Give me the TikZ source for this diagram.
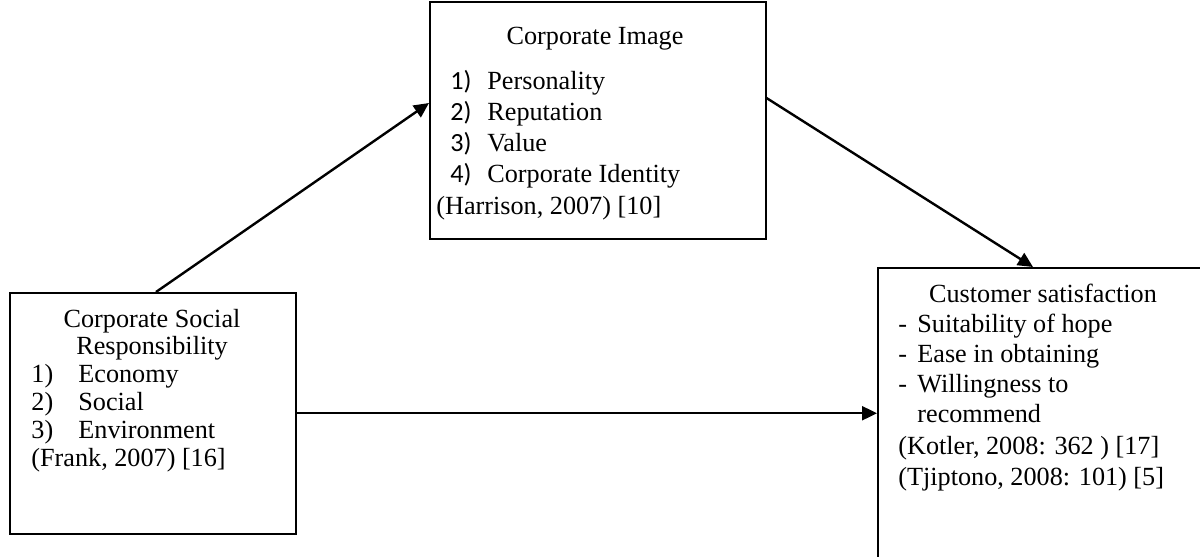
\documentclass[tikz,border=0pt]{standalone}
\usepackage{fontspec}
\setmainfont{Liberation Serif}
\newfontfamily\calibrifont{Carlito}
\usetikzlibrary{calc,arrows.meta}

\tikzset{
  varbox/.style = {draw, line width=0.75pt, inner sep=0pt, anchor=north west},
  link/.style = {-{Triangle[length=7.5pt,width=7pt]}, line width=1.2pt},
  txt/.style = {inner sep=0pt, anchor=base west, font=\fontsize{13.1}{15}\selectfont},
  ttl/.style = {inner sep=0pt, anchor=base, font=\fontsize{13.1}{15}\selectfont},
}

\begin{document}
\begin{tikzpicture}[x=0.5pt, y=-0.5pt]
% page frame (pixel units, y down)
\useasboundingbox (0,0) rectangle (1200,557);
%
% boxes: left up corner and size
\node[varbox, minimum width=168pt, minimum height=118.5pt] (image) at (429,1) {};
\node[varbox, minimum width=143pt, minimum height=120.5pt] (csr) at (9,292) {};
\node[varbox, minimum width=170pt, minimum height=160pt] (sat) at (877,267) {};
%
% corporate image
\node[ttl] (imagettl) at (595,44) {Corporate Image};
\foreach \item [count=\i] in {Personality, Reputation, Value, Corporate Identity} {
   \node[txt] (imagenum\i) at (450,{58+31*\i}) {\calibrifont\i)};
   \node[txt] (imageitem\i) at (487,{58+31*\i}) {\item};
}
\node[txt] (imageref) at (436,214) {(Harrison, 2007) [10]};
%
% corporate social responsibility
\node[ttl] (csrttl) at (152,327) {Corporate Social};
\node[ttl] (csrttlb) at (152,354) {Responsibility};
\foreach \item [count=\i] in {Economy, Social, Environment} {
   \node[txt] (csrnum\i) at (31,{354+28*\i}) {\i)};
   \node[txt] (csritem\i) at (78,{354+28*\i}) {\item};
}
\node[txt] (csrref) at (31,466) {(Frank, 2007) [16]};
%
% customer satisfaction
\node[ttl] (satttl) at (1043,302) {Customer satisfaction};
\foreach \item [count=\i] in {Suitability of hope, Ease in obtaining, Willingness to} {
   \node[txt] (satdash\i) at (898,{302+30*\i}) {-};
   \node[txt] (satitem\i) at (917,{302+30*\i}) {\item};
}
\node[txt] (satitemb) at (917,422) {recommend};
\node[txt] (satref) at (898,454) {(Kotler, 2008: 362 ) [17]};
\node[txt] (satrefb) at (898,485) {(Tjiptono, 2008: 101) [5]};
%
% arrows
\draw[link] ($(csr.north west)+(147,0)$) -- ($(image.north west)+(0,102)$);
\draw[link] ($(image.north east)+(0,97)$) -- ($(sat.north west)+(156,0)$);
\draw[link] (csr.east) -- (csr.east -| sat.west);
\end{tikzpicture}
\end{document}
